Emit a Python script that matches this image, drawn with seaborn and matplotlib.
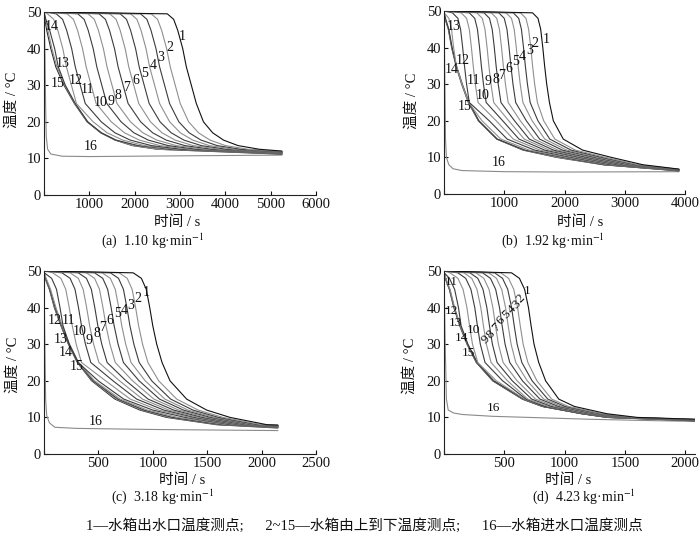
import numpy as np
import pandas as pd
import matplotlib
matplotlib.use('Agg')
import matplotlib.pyplot as plt
import seaborn as sns

sns.set_theme(style='ticks')
plt.rcParams['font.family'] = ['Liberation Serif', 'Noto Sans CJK SC', 'DejaVu Sans']
plt.rcParams['mathtext.fontset'] = 'stix'
plt.rcParams['axes.unicode_minus'] = False

# ---------------- data ----------------
curve_names = [str(k) for k in range(1, 16)]

# panel (a) 1.10 kg/min : time (s) at which each curve reaches the temperature levels
levels_a = [50, 49.5, 48, 45, 40, 35, 30, 25, 20, 17, 15, 13.5, 12.5]
times_a = [
    [0, 2720, 2860, 2950, 3060, 3140, 3250, 3360, 3517, 3720, 3960, 4280, 4750],
    [0, 2365, 2505, 2595, 2705, 2785, 2895, 3005, 3190, 3408, 3662, 4003, 4501],
    [0, 2130, 2270, 2360, 2470, 2550, 2660, 2770, 2974, 3201, 3464, 3820, 4337],
    [0, 1910, 2050, 2140, 2250, 2330, 2440, 2550, 2772, 3007, 3280, 3648, 4183],
    [0, 1680, 1820, 1910, 2020, 2100, 2210, 2320, 2560, 2805, 3086, 3469, 4022],
    [0, 1450, 1590, 1680, 1790, 1870, 1980, 2090, 2349, 2602, 2893, 3289, 3861],
    [0, 1215, 1355, 1445, 1555, 1635, 1745, 1855, 2132, 2396, 2696, 3106, 3696],
    [0, 970, 1110, 1200, 1310, 1390, 1500, 1610, 1907, 2180, 2490, 2915, 3525],
    [0, 745, 885, 975, 1085, 1165, 1275, 1385, 1700, 1982, 2301, 2739, 3367],
    [0, 510, 650, 740, 850, 930, 1040, 1150, 1484, 1775, 2104, 2556, 3203],
    [0, 270, 410, 500, 610, 690, 800, 910, 1263, 1564, 1902, 2369, 3035],
    [0, 75, 215, 305, 415, 495, 605, 715, 1084, 1392, 1738, 2217, 2898],
    [0, 10, 40, 125, 235, 315, 470, 690, 965, 1265, 1590, 2076, 2772],
    [0, 10, 35, 85, 175, 285, 455, 680, 960, 1260, 1580, 1970, 2530],
    [0, 5, 20, 60, 150, 260, 440, 670, 950, 1250, 1567, 1950, 2500],
]
end_t_a = 5250
end_T_a = [12.0, 11.9, 11.8, 11.75, 11.7, 11.6, 11.55, 11.5, 11.45, 11.4, 11.35, 11.3, 11.25, 11.2, 11.15]
inlet_t_a = [0, 20, 35, 50, 80, 150, 400, 1000, 3000, 5250]
inlet_T_a = [50, 40, 25, 16, 12.5, 11.2, 10.6, 10.5, 10.7, 10.9]

# panel (b) 1.92 kg/min
levels_b = [50, 49.5, 48, 45, 40, 35, 30, 25, 20, 15, 12, 10, 8]
times_b = [
    [0, 1470, 1560, 1605, 1640, 1670, 1705, 1750, 1815, 1980, 2300, 2780, 3300],
    [0, 1270, 1360, 1405, 1440, 1470, 1505, 1550, 1655, 1840, 2180, 2680, 3220],
    [0, 1150, 1240, 1285, 1320, 1350, 1385, 1430, 1559, 1756, 2108, 2620, 3172],
    [0, 1030, 1120, 1165, 1200, 1230, 1265, 1310, 1463, 1672, 2036, 2560, 3124],
    [0, 910, 1000, 1045, 1080, 1110, 1145, 1190, 1367, 1588, 1964, 2500, 3076],
    [0, 785, 875, 920, 955, 985, 1020, 1065, 1267, 1500, 1889, 2437, 3026],
    [0, 665, 755, 800, 835, 865, 900, 945, 1171, 1416, 1817, 2377, 2978],
    [0, 545, 635, 680, 715, 745, 780, 825, 1075, 1332, 1745, 2317, 2930],
    [0, 420, 510, 555, 590, 620, 655, 700, 975, 1245, 1670, 2255, 2880],
    [0, 285, 375, 420, 455, 485, 520, 565, 867, 1150, 1589, 2187, 2826],
    [0, 140, 230, 275, 310, 340, 375, 420, 751, 1049, 1502, 2115, 2768],
    [0, 3, 80, 125, 160, 205, 300, 410, 631, 944, 1412, 2040, 2708],
    [0, 2, 25, 80, 135, 207, 305, 415, 580, 885, 1340, 1980, 2660],
    [0, 4, 18, 76, 131, 203, 298, 408, 575, 880, 1320, 1900, 2650],
    [0, 5, 15, 72, 127, 199, 293, 404, 570, 875, 1311, 1870, 2640],
]
end_t_b = 3900
end_T_b = [6.8, 6.75, 6.7, 6.67, 6.63, 6.6, 6.57, 6.54, 6.5, 6.47, 6.44, 6.4, 6.37, 6.34, 6.3]
inlet_t_b = [0, 15, 25, 40, 80, 150, 300, 1000, 2000, 3900]
inlet_T_b = [50, 30, 15, 10, 8, 6.9, 6.4, 6.1, 6.0, 6.1]

# panel (c) 3.18 kg/min
levels_c = [50, 49.5, 48, 45, 40, 35, 30, 25, 20, 15, 12, 10, 8]
times_c = [
    [0, 820, 895, 940, 972, 1000, 1036, 1085, 1158, 1311, 1495, 1710, 2050],
    [0, 690, 765, 810, 842, 870, 906, 955, 1054, 1220, 1417, 1645, 1998],
    [0, 610, 685, 730, 762, 790, 826, 875, 990, 1164, 1369, 1605, 1966],
    [0, 535, 610, 655, 687, 715, 751, 800, 930, 1111, 1324, 1567, 1936],
    [0, 465, 540, 585, 617, 645, 681, 730, 874, 1062, 1282, 1532, 1908],
    [0, 390, 465, 510, 542, 570, 606, 655, 814, 1010, 1237, 1495, 1878],
    [0, 315, 390, 435, 467, 495, 531, 580, 754, 957, 1192, 1457, 1848],
    [0, 240, 315, 360, 392, 420, 456, 505, 694, 905, 1147, 1420, 1818],
    [0, 165, 240, 285, 317, 345, 381, 430, 634, 852, 1102, 1382, 1788],
    [0, 80, 155, 200, 232, 260, 296, 345, 566, 793, 1051, 1340, 1754],
    [0, 3, 70, 115, 147, 175, 232, 314, 498, 733, 1000, 1297, 1720],
    [0, 2, 20, 60, 110, 168, 235, 318, 465, 700, 950, 1230, 1680],
    [0, 2, 15, 55, 103, 163, 230, 312, 452, 680, 920, 1180, 1640],
    [0, 1, 12, 52, 99, 159, 227, 309, 445, 665, 900, 1150, 1610],
    [0, 1, 10, 49, 95, 156, 224, 306, 438, 652, 882, 1127, 1587],
]
end_t_c = 2150
end_T_c = [7.9, 7.85, 7.8, 7.75, 7.7, 7.65, 7.6, 7.55, 7.5, 7.45, 7.4, 7.35, 7.3, 7.2, 7.1]
inlet_t_c = [0, 8, 15, 25, 50, 100, 300, 1000, 2150]
inlet_T_c = [50, 30, 15, 10.5, 8.5, 7.3, 7.0, 6.7, 6.4]

# panel (d) 4.23 kg/min
levels_d = [50, 49.5, 48, 45, 40, 35, 30, 25, 20, 15, 13, 11, 10]
times_d = [
    [0, 560, 625, 668, 700, 722, 746, 785, 842, 951, 1080, 1350, 1600],
    [0, 470, 535, 578, 610, 632, 656, 695, 770, 892, 1030, 1309, 1564],
    [0, 420, 485, 528, 560, 582, 606, 645, 730, 860, 1003, 1287, 1544],
    [0, 370, 435, 478, 510, 532, 556, 595, 690, 827, 975, 1264, 1524],
    [0, 320, 385, 428, 460, 482, 506, 545, 650, 795, 948, 1242, 1504],
    [0, 265, 330, 373, 405, 427, 451, 490, 606, 759, 918, 1217, 1482],
    [0, 215, 280, 323, 355, 377, 401, 440, 566, 727, 890, 1195, 1462],
    [0, 165, 230, 273, 305, 327, 351, 390, 526, 694, 863, 1172, 1442],
    [0, 115, 180, 223, 255, 277, 301, 340, 486, 680, 835, 1150, 1422],
    [0, 50, 115, 158, 190, 212, 236, 280, 434, 668, 830, 1155, 1396],
    [0, 2, 45, 88, 120, 142, 198, 275, 412, 660, 825, 1150, 1370],
    [0, 2, 15, 50, 88, 136, 196, 274, 410, 656, 820, 1148, 1360],
    [0, 1, 13, 47, 85, 134, 194, 271, 407, 653, 817, 1145, 1355],
    [0, 1, 12, 45, 83, 132, 192, 269, 405, 651, 815, 1143, 1352],
    [0, 1, 10, 44, 82, 131, 191, 268, 404, 650, 814, 1142, 1350],
]
end_t_d = 2080
end_T_d = [9.5, 9.45, 9.42, 9.4, 9.37, 9.35, 9.32, 9.3, 9.27, 9.25, 9.2, 9.15, 9.12, 9.1, 9.05]
inlet_t_d = [0, 10, 20, 35, 80, 150, 400, 800, 1200, 1600, 2080]
inlet_T_d = [50, 30, 15, 12, 11.2, 10.8, 10.3, 9.9, 9.5, 9.2, 8.9]

# curve-number labels (text, x in s, y in degC)
label_text = [str(k) for k in range(1, 17)]
label_x_a = [3046, 2781, 2583, 2406, 2208, 2031, 1832, 1633, 1480, 1240, 950, 706, 420, 177, 310, 1030]
label_y_a = [43.2, 40.2, 37.7, 35.5, 33.3, 31.4, 29.5, 27.3, 25.6, 25.2, 28.9, 31.4, 36.0, 46.0, 30.6, 13.2]
label_x_b = [1693, 1516, 1416, 1306, 1190, 1068, 957, 862, 735, 650, 487, 318, 166, 128, 349, 902]
label_y_b = [42.3, 41.0, 39.3, 37.5, 36.2, 34.3, 32.5, 31.2, 30.7, 26.8, 31.1, 36.4, 45.7, 34.0, 24.0, 8.6]
label_x_c = [937, 867, 797, 735, 674, 607, 539, 484, 417, 331, 224, 101, 153, 202, 300, 478]
label_y_c = [44.1, 42.5, 40.7, 39.3, 38.4, 36.6, 34.6, 32.8, 31.0, 33.4, 36.6, 36.6, 31.3, 27.7, 23.9, 8.8]
label_x_d = [691, 636, 598, 562, 520, 473, 432, 390, 349, 243, 64, 64, 91, 147, 202, 410]
label_y_d = [44.4, 42.4, 40.9, 39.6, 38.0, 36.4, 34.6, 32.7, 31.2, 33.9, 47.1, 39.1, 35.7, 31.6, 27.5, 12.5]
label_rot_d = [0, 45, 45, 45, 45, 45, 45, 45, 45, 0, 0, 0, 0, 0, 0, 0]

xticks_a = [0, 1000, 2000, 3000, 4000, 5000, 6000]
xticks_b = [0, 1000, 2000, 3000, 4000]
xticks_c = [0, 500, 1000, 1500, 2000, 2500]
xticks_d = [0, 500, 1000, 1500, 2000]
yticks = [0, 10, 20, 30, 40, 50]

captions = ['(a)  1.10 kg·min$^{-1}$', '(b)  1.92 kg·min$^{-1}$',
            '(c)  3.18 kg·min$^{-1}$', '(d)  4.23 kg·min$^{-1}$']
legend_text = '1—水箱出水口温度测点;      2~15—水箱由上到下温度测点;      16—水箱进水口温度测点'


def build_frame(levels, times, end_t, end_T, in_t, in_T):
    rows = []
    for name, tt, te in zip(curve_names, times, end_T):
        for t, T in zip(tt, levels):
            rows.append((t, T, name))
        rows.append((end_t, te, name))
    for t, T in zip(in_t, in_T):
        rows.append((t, T, '16'))
    return pd.DataFrame(rows, columns=['t', 'T', 'curve'])


hue_order = [str(k) for k in range(16, 0, -1)]
palette = {}
for k in range(1, 17):
    if k == 1:
        palette[str(k)] = '#111111'
    elif k == 16:
        palette[str(k)] = '#8a8a8a'
    elif k % 2 == 0:
        palette[str(k)] = '#8f8f8f'
    else:
        palette[str(k)] = '#3c3c3c'
palette['15'] = '#2a2a2a'

W, H = 700, 535
fig = plt.figure(figsize=(W / 100, H / 100), dpi=100)


def px_axes(l, r, t, b):
    return fig.add_axes([l / W, 1 - b / H, (r - l) / W, (b - t) / H])


zeros = [0] * 16
panels = [
    dict(box=(44, 316, 12, 195), xlim=6000, xt=xticks_a,
         df=build_frame(levels_a, times_a, end_t_a, end_T_a, inlet_t_a, inlet_T_a),
         lx=label_x_a, ly=label_y_a, rot=zeros, fs=10),
    dict(box=(444, 685, 11, 194), xlim=4000, xt=xticks_b,
         df=build_frame(levels_b, times_b, end_t_b, end_T_b, inlet_t_b, inlet_T_b),
         lx=label_x_b, ly=label_y_b, rot=zeros, fs=10),
    dict(box=(44, 316, 271, 454), xlim=2500, xt=xticks_c,
         df=build_frame(levels_c, times_c, end_t_c, end_T_c, inlet_t_c, inlet_T_c),
         lx=label_x_c, ly=label_y_c, rot=zeros, fs=10),
    dict(box=(444, 695, 271, 454), xlim=2080, xt=xticks_d,
         df=build_frame(levels_d, times_d, end_t_d, end_T_d, inlet_t_d, inlet_T_d),
         lx=label_x_d, ly=label_y_d, rot=label_rot_d, fs=9.5),
]

for p in panels:
    ax = px_axes(*p['box'])
    sns.lineplot(data=p['df'], x='t', y='T', hue='curve', hue_order=hue_order,
                 palette=palette, estimator=None, sort=False, legend=False,
                 linewidth=0.8, ax=ax)
    ax.set_xlim(0, p['xlim'])
    ax.set_ylim(0, 50)
    ax.set_xticks(p['xt'])
    ax.set_xticklabels([''] + [str(v) for v in p['xt'][1:]])
    ax.set_yticks(yticks)
    ax.set_yticklabels([str(v) for v in yticks])
    ax.set_xlabel('')
    ax.set_ylabel('')
    ax.tick_params(direction='in', length=3, width=0.8, labelsize=10.5,
                   colors='#111111', pad=2)
    for s in ['left', 'bottom']:
        ax.spines[s].set_linewidth(0.8)
        ax.spines[s].set_color('#222222')
    sns.despine(ax=ax)
    for txt, x, y, r in zip(label_text, p['lx'], p['ly'], p['rot']):
        ax.text(x, y, txt, ha='center', va='center', fontsize=p['fs'],
                rotation=r, color='#111111')


def ftext(x, y, s, **kw):
    fig.text(x / W, 1 - y / H, s, ha='center', va='center', color='#111111', **kw)

for (x, y) in [(177, 222), (580, 222), (182, 480), (568, 480)]:
    ftext(x, y, '时间 / s', fontsize=10.5)
for (x, y) in [(12, 100), (412, 101), (13, 365), (410, 366)]:
    ftext(x, y, '温度 / °C', fontsize=10.5, rotation=90)
for (x, y), cap in zip([(152, 241), (553, 241), (162, 497), (584, 497)], captions):
    ftext(x, y, cap, fontsize=10)
ftext(364, 526, legend_text, fontsize=10.5)

fig.savefig('out.png', dpi=100)
